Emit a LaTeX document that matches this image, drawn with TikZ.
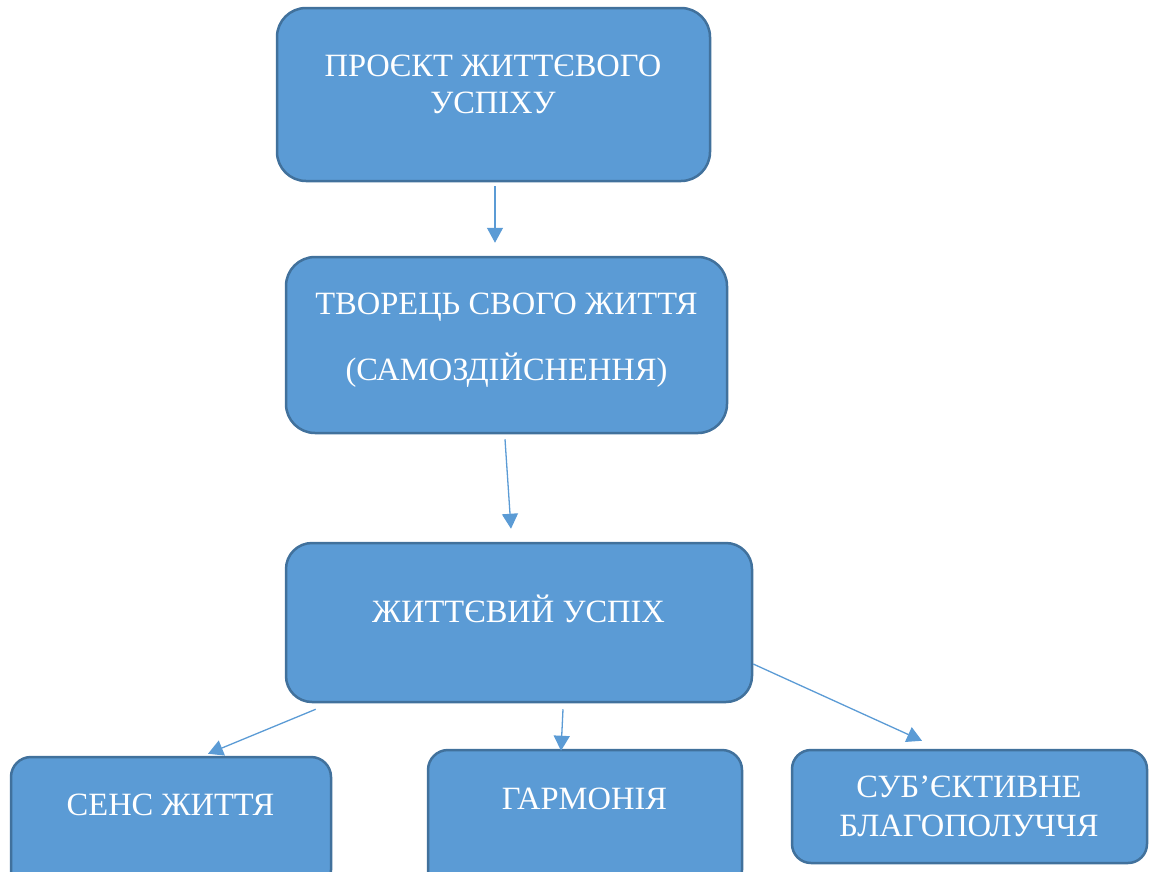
\documentclass[tikz,border=0pt]{standalone}
\usepackage{fontspec}
\setmainfont{Liberation Serif}
\usetikzlibrary{arrows.meta}
\definecolor{boxfill}{HTML}{5B9BD5}
\definecolor{boxline}{HTML}{41719C}
\begin{document}
\begin{tikzpicture}[x=1pt, y=-1pt, >={Triangle[length=15pt,width=16pt]},
  box/.style={draw=boxline, fill=boxfill, line width=2.5pt, inner sep=0pt},
  txt/.style={text=white, font=\fontsize{32.5}{38}\selectfont, align=center, anchor=base, inner sep=0pt},
  arr/.style={->, draw=boxfill, line width=1.3pt}]
\useasboundingbox (0,0) rectangle (1154,871);
% boxes
\node[box, rounded corners=29pt, minimum width=433pt, minimum height=173pt] (proj) at (493.5,94.5) {};
\node[box, rounded corners=29pt, minimum width=441pt, minimum height=176pt] (tvor) at (506.5,345) {};
\node[box, rounded corners=26pt, minimum width=466pt, minimum height=159pt] (usp) at (519,622.5) {};
\node[box, rounded corners=20pt, minimum width=320pt, minimum height=133pt] (sens) at (171,823.5) {};
\node[box, rounded corners=20pt, minimum width=314pt, minimum height=140pt] (harm) at (585,820) {};
\node[box, rounded corners=19pt, minimum width=355pt, minimum height=113pt] (blag) at (969.5,806.5) {};
% texts (anchored at the last baseline)
\node[txt] (projt) at (493,113) {ПРОЄКТ ЖИТТЄВОГО\\[-1pt]УСПІХУ};
\node[txt] (tvort) at (506.5,380) {ТВОРЕЦЬ СВОГО ЖИТТЯ\\[28pt](САМОЗДІЙСНЕННЯ)};
\node[txt] (uspt) at (518.5,622) {ЖИТТЄВИЙ УСПІХ};
\node[txt] (senst) at (170.5,815) {СЕНС ЖИТТЯ};
\node[txt] (harmt) at (584.5,809) {ГАРМОНІЯ};
\node[txt] (blagt) at (969,836) {СУБ’ЄКТИВНЕ\\[1pt]БЛАГОПОЛУЧЧЯ};
% arrows
\draw[arr] ([xshift=1.5pt,yshift=-4pt]proj.south) -- ([xshift=-11.5pt,yshift=13pt]tvor.north);
\draw[arr] ([xshift=-1.5pt,yshift=-5pt]tvor.south) -- ([xshift=-8pt,yshift=13pt]usp.north);
\draw[arr] ([xshift=31pt,yshift=-6pt]usp.south west) -- ([xshift=37pt,yshift=2pt]sens.north);
\draw[arr] ([xshift=44pt,yshift=-6pt]usp.south) -- ([xshift=-24pt,yshift=-2pt]harm.north);
\draw[arr] ([yshift=-41.5pt]usp.east) -- ([xshift=-47.5pt,yshift=8pt]blag.north);
\end{tikzpicture}
\end{document}
